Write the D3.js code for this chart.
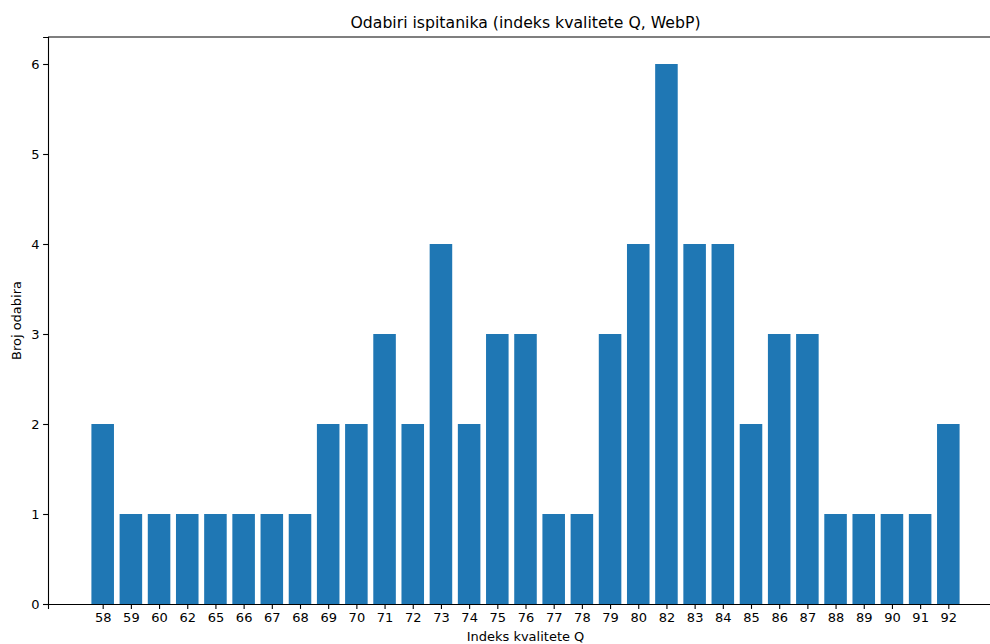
<!DOCTYPE html>
<html>
<head>
<meta charset="utf-8">
<script src="https://cdn.jsdelivr.net/npm/d3@7"></script>
<style>
  body { margin: 0; background: #fff; overflow: hidden; }
  text { font-family: "DejaVu Sans", sans-serif; fill: #000; }
</style>
</head>
<body>
<div id="chart"></div>
<script>
// podaci
const categories = ["58","59","60","62","65","66","67","68","69","70","71","72","73","74","75","76","77","78","79","80","82","83","84","85","86","87","88","89","90","91","92"];
const counts = [2,1,1,1,1,1,1,1,2,2,3,2,4,2,3,3,1,1,3,4,6,4,4,2,3,3,1,1,1,1,2];
const yTicks = [0,1,2,3,4,5,6];

const width = 990;
const height = 644;
const margin = { top: 37, right: -13, left: 48, bottom: 40 };

const svg = d3.select("div#chart").append("svg").attr("width", width).attr("height", height);

// matplotlib-like limits: bars 0.8 wide, 5% margin
const n = categories.length;
const span = (n - 1) + 0.8;
const x = d3.scaleLinear()
  .domain([-0.4 - 0.05 * span, n - 1 + 0.4 + 0.05 * span])
  .range([margin.left, width - margin.right]);
const y = d3.scaleLinear()
  .domain([0, d3.max(counts) * 1.05])
  .range([height - margin.bottom, margin.top]);

const data = categories.map((c, i) => ({ cat: c, i: i, v: counts[i] }));

// barras
svg.append("g").selectAll("rect")
  .data(data)
  .enter().append("rect")
  .attr("x", d => x(d.i - 0.4))
  .attr("width", d => x(d.i + 0.4) - x(d.i - 0.4))
  .attr("y", d => y(d.v))
  .attr("height", d => y(0) - y(d.v))
  .attr("fill", "#1f77b4");

// ejes
const xAxis = d3.axisBottom(x)
  .tickValues(d3.range(n))
  .tickFormat(i => categories[i])
  .tickSizeOuter(0).tickSize(4.9).tickPadding(3.5);
const yAxis = d3.axisLeft(y)
  .tickValues(yTicks)
  .tickFormat(d3.format("d"))
  .tickSizeOuter(0).tickSize(4.9).tickPadding(3.5);

const xg = svg.append("g").attr("transform", `translate(0, ${y(0)})`).call(xAxis);
const yg = svg.append("g").attr("transform", `translate(${margin.left}, 0)`).call(yAxis);
[xg, yg].forEach(g => {
  g.selectAll("text").style("font-size", "13px").attr("fill", "#000");
  g.selectAll("line, path").attr("stroke", "#000").attr("stroke-width", 1.1);
});

// marco superior y derecho
svg.append("line")
  .attr("x1", margin.left).attr("x2", width - margin.right)
  .attr("y1", margin.top).attr("y2", margin.top)
  .attr("stroke", "#000").attr("stroke-width", 1.1);
svg.append("line")
  .attr("x1", width - margin.right).attr("x2", width - margin.right)
  .attr("y1", margin.top).attr("y2", y(0))
  .attr("stroke", "#000").attr("stroke-width", 1.1);

const cx = (margin.left + width - margin.right) / 2;

// titulos
svg.append("text")
  .attr("x", cx).attr("y", 28)
  .attr("text-anchor", "middle")
  .style("font-size", "15.7px")
  .text("Odabiri ispitanika (indeks kvalitete Q, WebP)");

svg.append("text")
  .attr("x", cx).attr("y", 641)
  .attr("text-anchor", "middle")
  .style("font-size", "13px")
  .text("Indeks kvalitete Q");

svg.append("text")
  .attr("transform", `translate(21, ${(margin.top + y(0)) / 2}) rotate(-90)`)
  .attr("text-anchor", "middle")
  .style("font-size", "13px")
  .text("Broj odabira");
</script>
</body>
</html>
